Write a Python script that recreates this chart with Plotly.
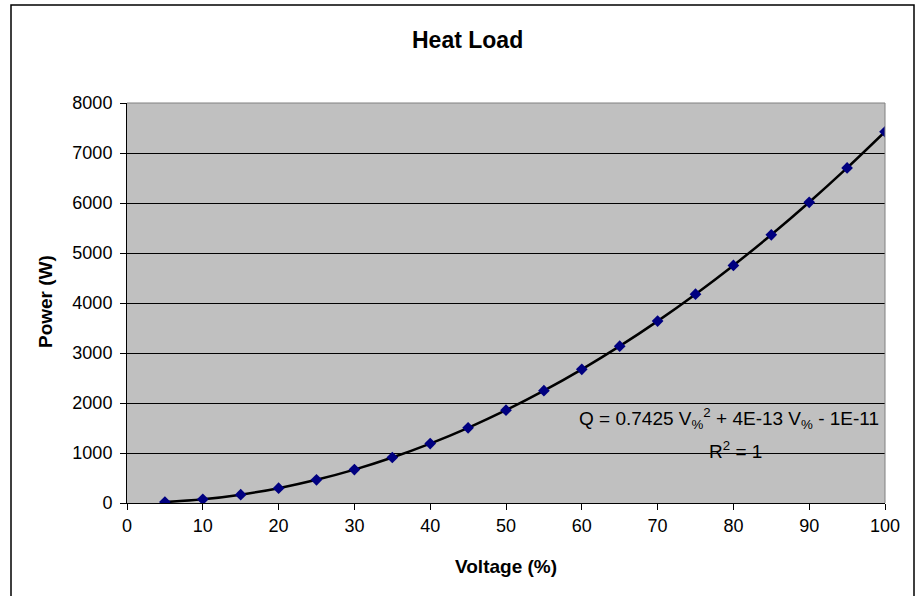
import plotly.graph_objects as go

voltage = [5, 10, 15, 20, 25, 30, 35, 40, 45, 50, 55, 60, 65, 70, 75, 80, 85, 90, 95, 100]
power = [19, 74, 167, 297, 464, 668, 910, 1188, 1504, 1856, 2246, 2673, 3137,
         3638, 4177, 4752, 5364, 6014, 6701, 7425]

FONT = "Liberation Sans, Arial, sans-serif"
L, R, T, B = 127, 885, 103, 503
PW, PH = R - L, B - T


def px(x):
    return (x - L) / PW


def py(y):
    return (B - y) / PH


fig = go.Figure()
fig.add_trace(go.Scatter(x=voltage, y=power, mode="lines",
                         line=dict(color="black", width=2.5, shape="spline"),
                         hoverinfo="skip", showlegend=False))
fig.add_trace(go.Scatter(x=voltage, y=power, mode="markers",
                         marker=dict(symbol="diamond", color="#000080", size=9,
                                     line=dict(width=0)),
                         showlegend=False))

fig.update_layout(
    width=916, height=596,
    margin=dict(l=L, r=916 - R, t=T, b=596 - B),
    paper_bgcolor="white", plot_bgcolor="#C0C0C0",
    font=dict(family=FONT, size=18, color="black"),
    xaxis=dict(range=[0, 100], dtick=10, tick0=0, showgrid=False,
               ticks="outside", ticklen=6, tickcolor="black",
               tickfont=dict(size=18),
               showline=True, linecolor="black", linewidth=1, zeroline=False),
    yaxis=dict(range=[0, 8000], dtick=1000, showgrid=True, gridcolor="black",
               gridwidth=1, ticks="outside", ticklen=6, tickcolor="black",
               tickfont=dict(size=18), ticklabelstandoff=4,
               showline=True, linecolor="black", linewidth=1, zeroline=False),
    shapes=[
        dict(type="line", xref="paper", yref="paper", x0=0, x1=1, y0=1, y1=1,
             line=dict(color="#808080", width=1)),
        dict(type="line", xref="paper", yref="paper", x0=1, x1=1, y0=0, y1=1,
             line=dict(color="#808080", width=1)),
        dict(type="rect", xref="paper", yref="paper",
             x0=px(11), x1=px(914), y0=py(600), y1=py(5),
             line=dict(color="black", width=1.5), fillcolor="rgba(0,0,0,0)",
             layer="below"),
    ],
    annotations=[
        dict(text="<b>Heat Load</b>", xref="paper", yref="paper",
             x=px(467), y=py(40), xanchor="center", yanchor="middle",
             showarrow=False, font=dict(size=23)),
        dict(text="<b>Voltage (%)</b>", xref="paper", yref="paper",
             x=px(506), y=py(566), xanchor="center", yanchor="middle",
             showarrow=False, font=dict(size=19)),
        dict(text="<b>Power (W)</b>", xref="paper", yref="paper",
             x=px(45), y=py(302), xanchor="center", yanchor="middle",
             textangle=-90, showarrow=False, font=dict(size=19)),
        dict(text="Q = 0.7425 V<sub>%</sub><sup>2</sup> + 4E-13 V<sub>%</sub> - 1E-11",
             xref="paper", yref="paper", x=px(881), y=py(418),
             xanchor="right", yanchor="middle", showarrow=False,
             font=dict(size=19)),
        dict(text="R<sup>2</sup> = 1",
             xref="paper", yref="paper", x=px(735), y=py(450),
             xanchor="center", yanchor="middle", showarrow=False,
             font=dict(size=19)),
    ],
)

fig.write_html("out.html", config={"displayModeBar": False},
               post_script="document.body.style.margin='0px';")
